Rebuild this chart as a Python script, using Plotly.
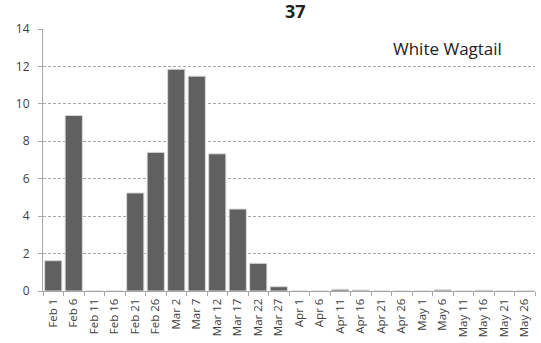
import plotly.graph_objects as go

# 5-day periods and mean counts for the species
periods = ["Feb 1", "Feb 6", "Feb 11", "Feb 16", "Feb 21", "Feb 26", "Mar 2", "Mar 7",
           "Mar 12", "Mar 17", "Mar 22", "Mar 27", "Apr 1", "Apr 6", "Apr 11", "Apr 16",
           "Apr 21", "Apr 26", "May 1", "May 6", "May 11", "May 16", "May 21", "May 26"]
counts = [1.62, 9.38, 0, 0, 5.24, 7.41, 11.85, 11.48,
          7.33, 4.38, 1.48, 0.23, 0, 0, 0.09, 0.05,
          0, 0, 0, 0.06, 0, 0.04, 0, 0]

title_text = "37"
species = "White Wagtail"

fig = go.Figure(go.Bar(
    x=periods, y=counts,
    marker=dict(color="#606060", line=dict(color="#d9d9d9", width=1)),
))

fig.update_layout(
    width=541, height=343,
    margin=dict(l=43, r=6, t=29, b=52, autoexpand=False),
    plot_bgcolor="white", paper_bgcolor="white",
    bargap=0.16,
    showlegend=False,
    font=dict(family="Open Sans, Liberation Sans, sans-serif", color="#404040"),
    title=dict(text="<b>" + title_text + "</b>", x=0.546, xanchor="center", y=0.985, yanchor="top",
               font=dict(size=18, color="#222222")),
    annotations=[dict(text=species, xref="paper", yref="paper", x=0.938, y=0.925,
                      xanchor="right", yanchor="middle", showarrow=False,
                      font=dict(size=17, color="#222222"))],
)

fig.update_xaxes(
    type="category", tickangle=-90, tickfont=dict(size=11.5), automargin=False,
    showline=True, linecolor="#a6a6a6", linewidth=1,
    ticks="outside", ticklen=4, tickcolor="#a6a6a6", tickson="boundaries",
    ticklabelstandoff=2,
    showgrid=False,
)
fig.update_yaxes(
    range=[0, 14], dtick=2, tickfont=dict(size=12), automargin=False,
    showline=True, linecolor="#a6a6a6", linewidth=1,
    ticks="outside", ticklen=4, tickcolor="#a6a6a6",
    ticklabelstandoff=6,
    showgrid=True, gridcolor="#a8a8a8", griddash="3px,2px", gridwidth=1,
    zeroline=False,
)

# drop the browser's default page margin so the figure sits at the corner
fig.write_html("out.html", config={"displayModeBar": False},
               post_script="document.body.style.margin='0';")
